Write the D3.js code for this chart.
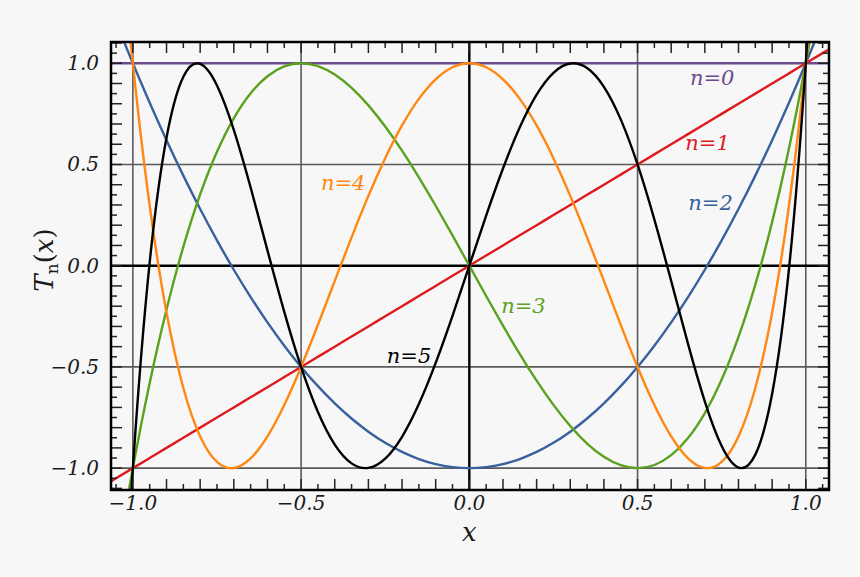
<!DOCTYPE html>
<html><head><meta charset="utf-8">
<script src="https://cdn.jsdelivr.net/npm/d3@7"></script>
<style>html,body{margin:0;padding:0;background:#f7f7f7;}</style>
</head><body>
<svg id="chart" width="860" height="577"></svg>
<script>
// sample abscissae (read along the x axis)
const xs = [-1.1,-1.05,-1.0,-0.95,-0.9,-0.85,-0.8,-0.75,-0.7,-0.65,-0.6,-0.55,-0.5,-0.45,-0.4,-0.35,-0.3,-0.25,-0.2,-0.15,-0.1,-0.05,
            0,0.05,0.1,0.15,0.2,0.25,0.3,0.35,0.4,0.45,0.5,0.55,0.6,0.65,0.7,0.75,0.8,0.85,0.9,0.95,1.0,1.05,1.1];
const T0 = [1,1,1,1,1,1,1,1,1,1,1,1,1,1,1,1,1,1,1,1,1,1,1,1,1,1,1,1,1,1,1,1,1,1,1,1,1,1,1,1,1,1,1,1,1];
const T1 = [-1.1,-1.05,-1.0,-0.95,-0.9,-0.85,-0.8,-0.75,-0.7,-0.65,-0.6,-0.55,-0.5,-0.45,-0.4,-0.35,-0.3,-0.25,-0.2,-0.15,-0.1,-0.05,
            0,0.05,0.1,0.15,0.2,0.25,0.3,0.35,0.4,0.45,0.5,0.55,0.6,0.65,0.7,0.75,0.8,0.85,0.9,0.95,1.0,1.05,1.1];
const T2 = [1.42,1.205,1,0.805,0.62,0.445,0.28,0.125,-0.02,-0.155,-0.28,-0.395,-0.5,-0.595,-0.68,-0.755,-0.82,-0.875,-0.92,-0.955,-0.98,-0.995,
            -1,-0.995,-0.98,-0.955,-0.92,-0.875,-0.82,-0.755,-0.68,-0.595,-0.5,-0.395,-0.28,-0.155,-0.02,0.125,0.28,0.445,0.62,0.805,1,1.205,1.42];
const T3 = [-2.024,-1.4805,-1,-0.5795,-0.216,0.0935,0.352,0.5625,0.728,0.8515,0.936,0.9845,1,0.9855,0.944,0.8785,0.792,0.6875,0.568,0.4365,0.296,0.1495,
            0,-0.1495,-0.296,-0.4365,-0.568,-0.6875,-0.792,-0.8785,-0.944,-0.9855,-1,-0.9845,-0.936,-0.8515,-0.728,-0.5625,-0.352,-0.0935,0.216,0.5795,1,1.4805,2.024];
const T4 = [3.0328,1.9041,1,0.2961,-0.2312,-0.604,-0.8432,-0.9688,-0.9992,-0.952,-0.8432,-0.688,-0.5,-0.292,-0.0752,0.1401,0.3448,0.5313,0.6928,0.8241,0.9208,0.9801,
            1,0.9801,0.9208,0.8241,0.6928,0.5313,0.3448,0.1401,-0.0752,-0.292,-0.5,-0.688,-0.8432,-0.952,-0.9992,-0.9688,-0.8432,-0.604,-0.2312,0.2961,1,1.9041,3.0328];
const T5 = [-4.6482,-2.518,-1,0.017,0.6322,0.9332,0.9971,0.8906,0.6709,0.386,0.0758,-0.2278,-0.5,-0.7227,-0.8838,-0.9765,-0.9989,-0.9531,-0.8451,-0.6837,-0.4802,-0.2475,
            0,0.2475,0.4802,0.6837,0.8451,0.9531,0.9989,0.9765,0.8838,0.7227,0.5,0.2278,-0.0758,-0.386,-0.6709,-0.8906,-0.9971,-0.9332,-0.6322,-0.017,1,2.518,4.6482];
const seriesNames = ["n=0","n=1","n=2","n=3","n=4","n=5"];
const seriesValues = [T0,T1,T2,T3,T4,T5];
const colors = ["#6b4a8b","#de1a1f","#38609c","#5aa21e","#ff8712","#000000"];
// label anchor positions in data units
const labelX = [0.722,0.708,0.717,0.161,-0.375,-0.179];
const labelY = [0.895,0.572,0.276,-0.233,0.375,-0.479];
const gridVals = [-1,-0.5,0.5,1];
const tickLabelVals = [-1,-0.5,0,0.5,1];

const svg = d3.select("#chart");
const L=111, R=829, T=42, B=490;
const x = d3.scaleLinear().domain([-1.065,1.069]).range([L,R]);
const y = d3.scaleLinear().domain([-1.108,1.105]).range([B,T]);

svg.append("rect").attr("width",860).attr("height",577).attr("fill","#f7f7f7");
svg.append("defs").append("clipPath").attr("id","clip").append("rect")
  .attr("x",L).attr("y",T).attr("width",R-L).attr("height",B-T);

const g = svg.append("g").attr("clip-path","url(#clip)");
// grid
gridVals.forEach(v=>{
  g.append("line").attr("x1",x(v)).attr("x2",x(v)).attr("y1",T).attr("y2",B).attr("stroke","#5a5a5a").attr("stroke-width",1.6);
  g.append("line").attr("y1",y(v)).attr("y2",y(v)).attr("x1",L).attr("x2",R).attr("stroke","#5a5a5a").attr("stroke-width",1.6);
});
g.append("line").attr("x1",x(0)).attr("x2",x(0)).attr("y1",T).attr("y2",B).attr("stroke","#000").attr("stroke-width",2.4);
g.append("line").attr("y1",y(0)).attr("y2",y(0)).attr("x1",L).attr("x2",R).attr("stroke","#000").attr("stroke-width",2.4);

// curves
const line = d3.line().x((d,i)=>x(xs[i])).y(d=>y(d)).curve(d3.curveNatural);
seriesValues.forEach((vals,k)=>{
  g.append("path").datum(vals).attr("d",line).attr("fill","none")
   .attr("stroke",colors[k]).attr("stroke-width",2.4);
});

// ticks (inside, all four sides)
const fine = d3.range(-21,22).map(i=>i*0.05).filter(v=>v>-1.065&&v<1.069);
const fineY = d3.range(-22,23).map(i=>i*0.05).filter(v=>v>-1.108&&v<1.105);
const tk = svg.append("g").attr("stroke","#222").attr("stroke-width",1.5);
fine.forEach(v=>{
  const len = Math.abs(Math.round(v*20))%2===0 ? 11 : 6;
  tk.append("line").attr("x1",x(v)).attr("x2",x(v)).attr("y1",B).attr("y2",B-len);
  tk.append("line").attr("x1",x(v)).attr("x2",x(v)).attr("y1",T).attr("y2",T+len);
});
fineY.forEach(v=>{
  const len = Math.abs(Math.round(v*20))%2===0 ? 11 : 6;
  tk.append("line").attr("y1",y(v)).attr("y2",y(v)).attr("x1",L).attr("x2",L+len);
  tk.append("line").attr("y1",y(v)).attr("y2",y(v)).attr("x1",R).attr("x2",R-len);
});
// frame
svg.append("rect").attr("x",L).attr("y",T).attr("width",R-L).attr("height",B-T)
  .attr("fill","none").attr("stroke","#000").attr("stroke-width",2.5);

const fmt = v => (v<0?"\u2212":"") + Math.abs(v).toFixed(1);
const font = "DejaVu Serif";
tickLabelVals.forEach(v=>{
  svg.append("text").attr("x",x(v)).attr("y",510).attr("text-anchor","middle")
    .attr("font-family",font).attr("font-style","italic").attr("font-size",20).attr("fill","#1a1a1a").text(fmt(v));
  svg.append("text").attr("x",99).attr("y",y(v)+7).attr("text-anchor","end")
    .attr("font-family",font).attr("font-style","italic").attr("font-size",20).attr("fill","#1a1a1a").text(fmt(v));
});
// axis titles
svg.append("text").attr("x",x(0)).attr("y",541).attr("text-anchor","middle")
  .attr("font-family",font).attr("font-style","italic").attr("font-size",26).attr("fill","#1a1a1a").text("x");
const yl = svg.append("text").attr("transform",`translate(53,260) rotate(-90)`).attr("text-anchor","middle")
  .attr("font-family",font).attr("font-size",26).attr("fill","#1a1a1a");
yl.append("tspan").attr("font-style","italic").text("T");
yl.append("tspan").attr("font-size",17).attr("dy",5).text("n");
yl.append("tspan").attr("dy",-5).text("(");
yl.append("tspan").attr("font-style","italic").text("x");
yl.append("tspan").text(")");

// series labels
seriesNames.forEach((n,k)=>{
  svg.append("text").attr("x",x(labelX[k])).attr("y",y(labelY[k])).attr("text-anchor","middle")
    .attr("font-family",font).attr("font-style","italic").attr("font-size",21).attr("fill",colors[k]).text(n);
});
</script>
</body></html>
